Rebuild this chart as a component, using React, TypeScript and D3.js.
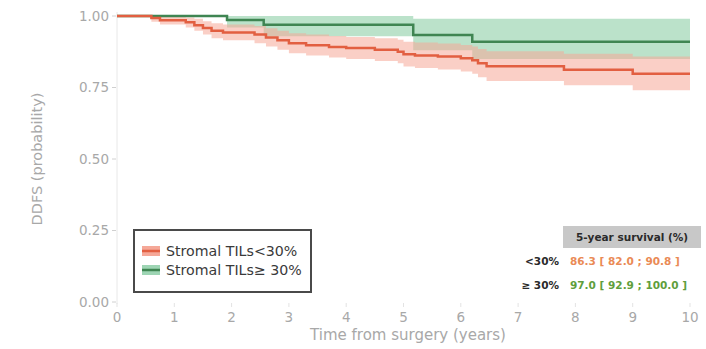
import React from "react";
import * as d3 from "d3";

const W = 706, H = 349;

// Low TILs (<30%) Kaplan-Meier steps
const lowTime = [0, 0.6, 0.75, 1.2, 1.35, 1.5, 1.65, 1.85, 2.4, 2.6, 2.8, 3.0, 3.3, 3.7, 4.0, 4.5, 4.9, 5.0, 5.2, 5.6, 6.0, 6.2, 6.3, 6.45, 7.8, 9.0];
const lowSurv = [1, 0.993, 0.985, 0.978, 0.968, 0.958, 0.948, 0.942, 0.935, 0.925, 0.915, 0.905, 0.898, 0.892, 0.888, 0.882, 0.875, 0.866, 0.862, 0.858, 0.852, 0.845, 0.835, 0.824, 0.812, 0.798];
const lowLo = [1, 0.98, 0.97, 0.96, 0.948, 0.935, 0.922, 0.915, 0.905, 0.893, 0.882, 0.87, 0.862, 0.855, 0.85, 0.843, 0.835, 0.823, 0.818, 0.813, 0.806, 0.798, 0.786, 0.773, 0.758, 0.74];
const lowHi = [1, 1, 1, 0.995, 0.99, 0.982, 0.975, 0.97, 0.965, 0.957, 0.948, 0.94, 0.935, 0.93, 0.927, 0.922, 0.917, 0.91, 0.907, 0.904, 0.899, 0.893, 0.885, 0.877, 0.868, 0.858];

// High TILs (>=30%)
const highTime = [0, 1.92, 2.56, 5.17, 6.2];
const highSurv = [1, 0.986, 0.969, 0.934, 0.91];
const highLo = [1, 0.96, 0.929, 0.88, 0.85];
const highHi = [1, 1, 1, 0.99, 0.99];

const xTicks = [0, 1, 2, 3, 4, 5, 6, 7, 8, 9, 10];
const yTicks = [0, 0.25, 0.5, 0.75, 1];

const legendLabels = ["Stromal TILs<30%", "Stromal TILs\u2265 30%"];
const tableHeader = "5-year survival (%)";
const tableRowLabels = ["<30%", "\u2265 30%"];
const tableRowValues = ["86.3 [ 82.0 ; 90.8 ]", "97.0 [ 92.9 ; 100.0 ]"];

const RED = "#e25f41";
const RED_BAND = "#f5a898";
const GREEN = "#3f8552";
const GREEN_BAND = "#9ed5b4";
const TEXT_GRAY = "#a8a8a8";
const FONT = "'DejaVu Sans', sans-serif";

type Pt = { t: number; s: number; lo: number; hi: number };
function build(t: number[], s: number[], lo: number[], hi: number[]): Pt[] {
  const pts = t.map((tt, i) => ({ t: tt, s: s[i], lo: lo[i], hi: hi[i] }));
  const last = pts[pts.length - 1];
  pts.push({ ...last, t: 10 });
  return pts;
}

export default function App() {
  const x = d3.scaleLinear().domain([0, 10]).range([117, 690]);
  const y = d3.scaleLinear().domain([0, 1]).range([302, 16]);

  const low = build(lowTime, lowSurv, lowLo, lowHi);
  const high = build(highTime, highSurv, highLo, highHi);

  const line = d3.line<Pt>().x(d => x(d.t)).y(d => y(d.s)).curve(d3.curveStepAfter);
  const area = d3.area<Pt>().x(d => x(d.t)).y0(d => y(d.lo)).y1(d => y(d.hi)).curve(d3.curveStepAfter);

  return (
    <svg width={W} height={H} style={{ position: "absolute", left: 0, top: 0, background: "#fff" }} fontFamily={FONT}>
      {/* axes */}
      <line x1={x(0)} x2={x(0)} y1={y(1) - 4} y2={y(0) + 2} stroke="#e8e8e8" strokeWidth={1} />
      {yTicks.map(v => (
        <g key={"y" + v}>
          <line x1={x(0) - 5} x2={x(0) - 1} y1={y(v)} y2={y(v)} stroke="#d0d0d0" />
          <text x={x(0) - 8} y={y(v)} dy="0.35em" textAnchor="end" fontSize={13.5} fill={TEXT_GRAY}>{v.toFixed(2)}</text>
        </g>
      ))}
      {xTicks.map(v => (
        <g key={"x" + v}>
          <line x1={x(v)} x2={x(v)} y1={y(0) + 1} y2={y(0) + 5} stroke="#e3e3e3" />
          <text x={x(v)} y={y(0) + 20} textAnchor="middle" fontSize={13.5} fill={TEXT_GRAY}>{v}</text>
        </g>
      ))}
      <text x={408} y={340} textAnchor="middle" fontSize={15} fill={TEXT_GRAY}>Time from surgery (years)</text>
      <text transform={`translate(42,${(y(0) + y(1)) / 2}) rotate(-90)`} textAnchor="middle" fontSize={14.5} fill={TEXT_GRAY}>DDFS (probability)</text>

      {/* bands */}
      <path d={area(high) || ""} fill={GREEN_BAND} opacity={0.7} />
      <path d={area(low) || ""} fill={RED_BAND} opacity={0.55} />
      {/* lines */}
      <path d={line(high) || ""} fill="none" stroke={GREEN} strokeWidth={2.5} />
      <path d={line(low) || ""} fill="none" stroke={RED} strokeWidth={2.5} />

      {/* legend */}
      <rect x={134} y={230} width={177} height={62} fill="#fff" stroke="#4a4a4a" strokeWidth={2} />
      {legendLabels.map((lab, i) => (
        <g key={lab}>
          <rect x={142} y={246 + i * 19} width={18} height={10} fill={i === 0 ? RED_BAND : GREEN_BAND} />
          <line x1={142} x2={160} y1={251 + i * 19} y2={251 + i * 19} stroke={i === 0 ? RED : GREEN} strokeWidth={2.5} />
          <text x={166} y={251 + i * 19} dy="0.35em" fontSize={14.2} fill="#3a3a3a">{lab}</text>
        </g>
      ))}

      {/* table */}
      <rect x={563} y={226} width={138} height={22} fill="#c8c8c8" />
      <text x={632} y={237} dy="0.35em" textAnchor="middle" fontSize={10.5} fontWeight="bold" fill="#2a2a2a">{tableHeader}</text>
      {tableRowLabels.map((lab, i) => (
        <g key={lab}>
          <text x={559} y={261 + i * 24} dy="0.35em" textAnchor="end" fontSize={10.5} fontWeight="bold" fill="#2a2a2a">{lab}</text>
          <text x={570} y={261 + i * 24} dy="0.35em" textAnchor="start" fontSize={10.5} fontWeight="bold" fill={i === 0 ? "#ea8a55" : "#5f9e3c"}>{tableRowValues[i]}</text>
        </g>
      ))}
    </svg>
  );
}
